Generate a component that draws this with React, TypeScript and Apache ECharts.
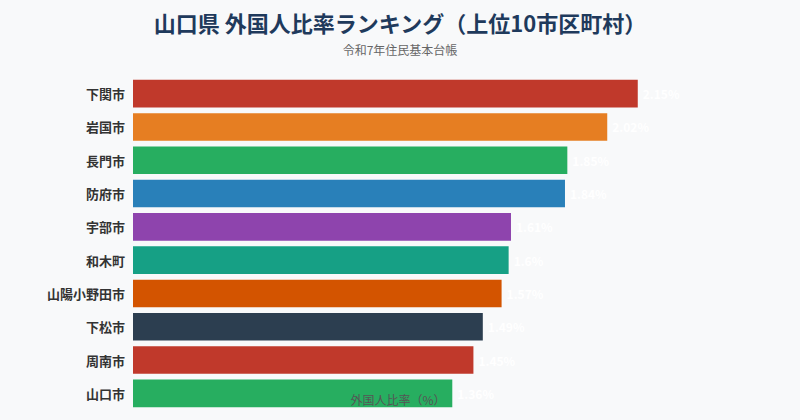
import { useEffect, useRef } from 'react';
import * as echarts from 'echarts';

const cities = [
  '下関市',
  '岩国市',
  '長門市',
  '防府市',
  '宇部市',
  '和木町',
  '山陽小野田市',
  '下松市',
  '周南市',
  '山口市',
];

const ratios = [2.15, 2.02, 1.85, 1.84, 1.61, 1.6, 1.57, 1.49, 1.45, 1.36];

const barColors = [
  '#c0392b',
  '#e67e22',
  '#27ae60',
  '#2980b9',
  '#8e44ad',
  '#16a085',
  '#d35400',
  '#2c3e50',
  '#c0392b',
  '#27ae60',
];

const FONT = '"Noto Sans CJK JP", "Noto Sans", sans-serif';

export default function App() {
  const chartRef = useRef<HTMLDivElement>(null);

  useEffect(() => {
    document.body.style.margin = '0';
    document.body.style.background = '#f8f9fa';
    if (!chartRef.current) return;

    const chart = echarts.init(chartRef.current, null, { renderer: 'svg' });

    const option: echarts.EChartsOption = {
      animation: false,
      backgroundColor: '#f8f9fa',
      textStyle: { fontFamily: FONT },
      title: {
        text: '山口県 外国人比率ランキング（上位10市区町村）',
        subtext: '令和7年住民基本台帳',
        left: 'center',
        top: 6,
        itemGap: 10,
        textStyle: {
          color: '#1f3a5c',
          fontSize: 22,
          fontWeight: 'bold',
          fontFamily: FONT,
        },
        subtextStyle: {
          color: '#666',
          fontSize: 12,
          fontFamily: FONT,
        },
      },
      grid: {
        left: 133,
        right: 137,
        top: 77,
        bottom: 10,
      },
      xAxis: {
        type: 'value',
        min: 0,
        max: (v) => v.max * 1.05,
        z: 5,
        name: '外国人比率（%）',
        nameLocation: 'middle',
        nameGap: -17,
        nameTextStyle: { color: '#555', fontSize: 12, fontFamily: FONT },
        axisLine: { show: false },
        axisTick: { show: false },
        axisLabel: { show: false },
        splitLine: { show: false },
      },
      yAxis: {
        type: 'category',
        data: cities,
        inverse: true,
        axisLine: { show: false },
        axisTick: { show: false },
        axisLabel: {
          color: '#333',
          fontSize: 13,
          fontWeight: 'bold',
          margin: 8,
          fontFamily: FONT,
        },
      },
      series: [
        {
          type: 'bar',
          barWidth: '83%',
          data: ratios.map((v, i) => ({
            value: v,
            itemStyle: { color: barColors[i] },
          })),
          label: {
            show: true,
            position: 'right',
            color: '#fff',
            fontSize: 12,
            fontWeight: 'bold',
            formatter: '{c}%',
            fontFamily: FONT,
          },
        },
      ],
    };

    chart.setOption(option);

    return () => {
      chart.dispose();
    };
  }, []);

  return <div ref={chartRef} style={{ width: 800, height: 420 }} />;
}
